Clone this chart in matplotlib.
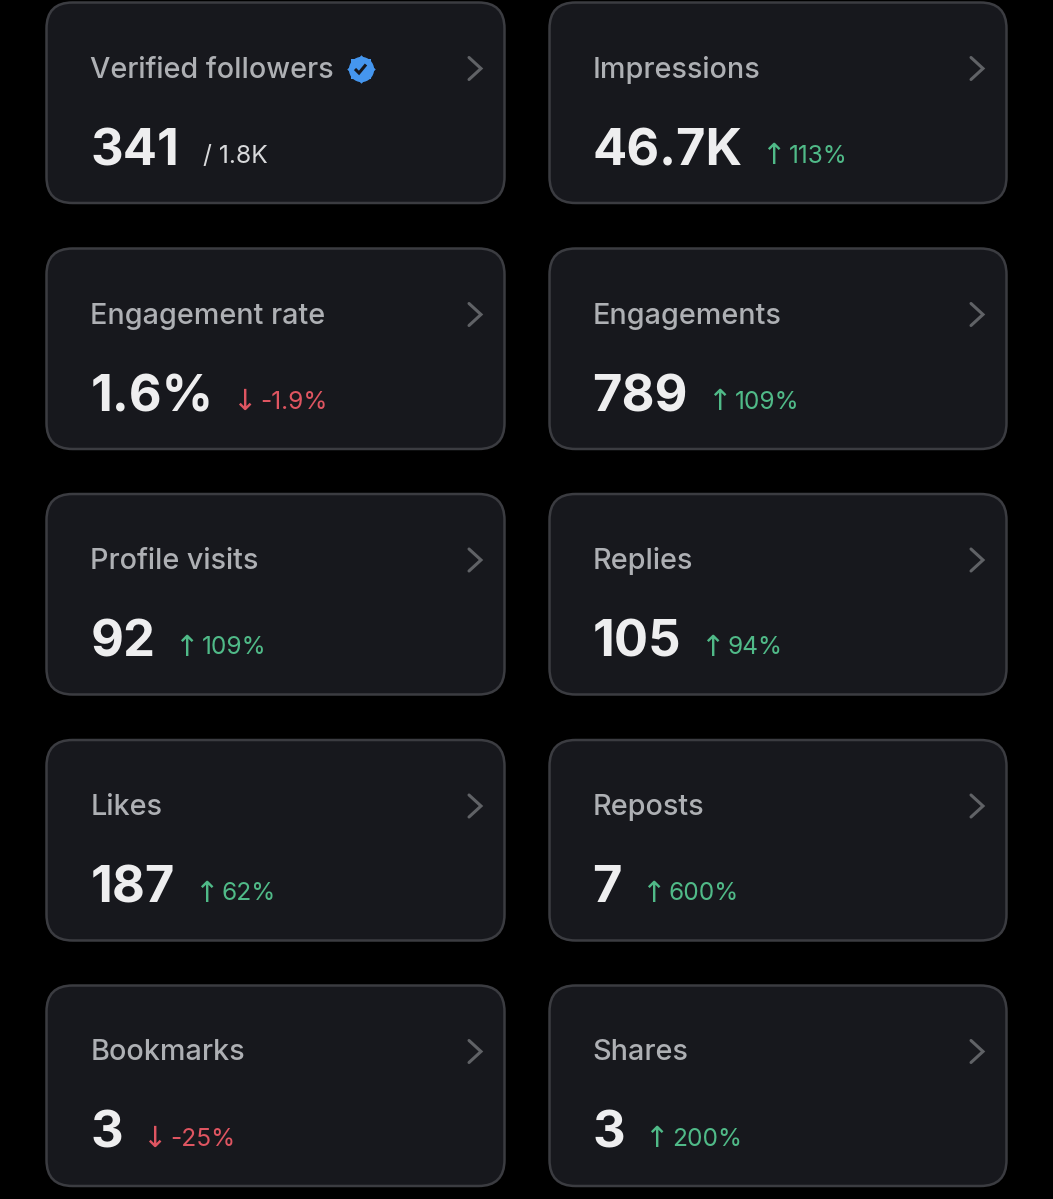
import matplotlib
matplotlib.use('Agg')
import matplotlib.pyplot as plt
from matplotlib.patches import FancyBboxPatch

plt.rcParams['font.family'] = ['Inter', 'DejaVu Sans']

# cards, left column then right column
titles_left = ['Verified followers', 'Engagement rate', 'Profile visits', 'Likes', 'Bookmarks']
values_left = ['341', '1.6%', '92', '187', '3']
deltas_left = ['/ 1.8K', '-1.9%', '109%', '62%', '-25%']
titles_right = ['Impressions', 'Engagements', 'Replies', 'Reposts', 'Shares']
values_right = ['46.7K', '789', '105', '7', '3']
deltas_right = ['113%', '109%', '94%', '600%', '200%']

BG = '#000000'
CARD = '#17181d'
EDGE = '#3b3c41'
TITLE = '#aeb0b4'
VALUE = '#eeeeef'
GREEN = '#50ba88'
RED = '#df5561'
CHEVRON = '#606266'
BLUE = '#4596ee'

CARD_TOPS = [2.5, 248.5, 494, 740, 985.5]
CARD_H = 200.5
# left edge, width, text x, chevron x
COLS = [(46.5, 458, 90.5, 469), (549.5, 457, 592.5, 971)]


def draw_card(ax, fig, col, top, title, value, delta):
    left, width, tx, cx = col
    ax.add_patch(FancyBboxPatch(
        (left + 26, top + 26), width - 52, CARD_H - 52,
        boxstyle='round,pad=26,rounding_size=26',
        facecolor=CARD, edgecolor=EDGE, linewidth=1.8,
    ))
    ax.text(tx, top + 75, title, fontsize=20.7, color=TITLE, va='baseline', fontweight='medium')
    val = ax.text(tx, top + 162.5, value, fontsize=36.5, color=VALUE, va='baseline', fontweight='bold')
    end = val.get_window_extent(fig.canvas.get_renderer()).x1

    # chevron
    ax.plot([cx, cx + 12, cx], [top + 55, top + 66, top + 77], color=CHEVRON, lw=2.2,
            solid_capstyle='round', solid_joinstyle='miter')

    dx = end + 24
    if delta.startswith('/'):
        ax.text(dx, top + 161, delta, fontsize=17.8, color='#d8d9db', va='baseline')
        return
    color = RED if delta.startswith('-') else GREEN
    arrow = '↓' if delta.startswith('-') else '↑'
    ax.text(dx + 7, top + 161.5, arrow, fontsize=21, color=color, va='baseline', ha='center',
            family='DejaVu Sans')
    ax.text(dx + 22.5, top + 160.5, delta, fontsize=17.6, color=color, va='baseline')


def draw_badge(ax, x, y):
    for marker in ['s', 'D']:
        ax.scatter([x], [y], s=210, marker=marker, color=BLUE, linewidths=0, zorder=3)
    ax.scatter([x], [y], s=330, marker='o', color=BLUE, linewidths=0, zorder=3)
    ax.plot([x - 5.5, x - 1.5, x + 5.5], [y + 0.5, y + 4.5, y - 4], color=CARD, lw=2.2, zorder=4,
            solid_capstyle='butt', solid_joinstyle='miter')


fig = plt.figure(figsize=(10.53, 11.99), dpi=100, facecolor=BG)
ax = fig.add_axes([0, 0, 1, 1])
ax.set_xlim(0, 1053)
ax.set_ylim(1199, 0)
ax.axis('off')

columns = [(titles_left, values_left, deltas_left), (titles_right, values_right, deltas_right)]
for col, (titles, values, deltas) in zip(COLS, columns):
    for top, title, value, delta in zip(CARD_TOPS, titles, values, deltas):
        draw_card(ax, fig, col, top, title, value, delta)

draw_badge(ax, 360.5, 68.5)

fig.savefig('out.png', dpi=100, facecolor=BG)
plt.close(fig)
